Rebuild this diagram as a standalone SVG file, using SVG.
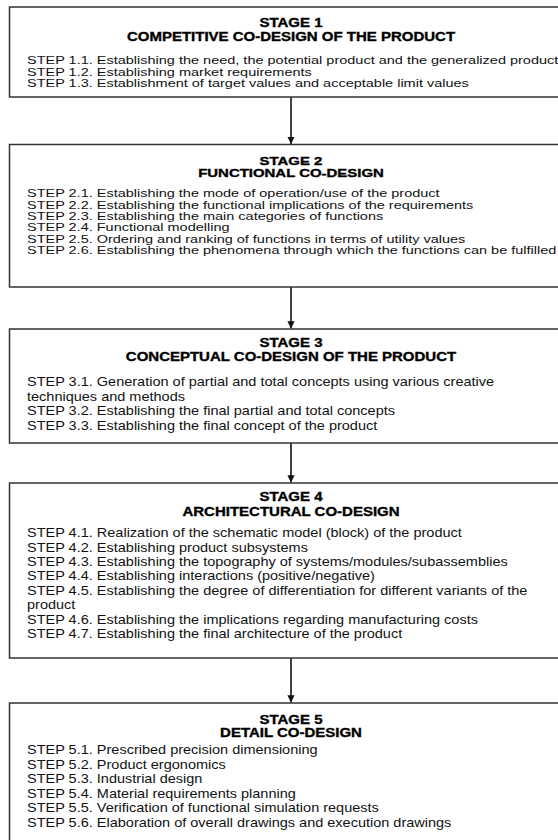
<svg xmlns="http://www.w3.org/2000/svg" width="558" height="840" viewBox="0 0 558 840">
<defs>
<style>
.box{fill:#fff;stroke:#333;stroke-width:1.5}
.st{font-family:"Liberation Sans",Arial,sans-serif;font-size:12px;fill:#111}
.st.s{font-size:11.5px}
.st.t{font-size:10.8px}
.hd{font-family:"Liberation Sans",Arial,sans-serif;font-weight:bold;font-size:12.5px;fill:#000;stroke:#000;stroke-width:0.35;text-anchor:middle}
.hd.t{font-size:11.5px}
.conn{stroke:#111;stroke-width:1.6;fill:none}
</style>
<marker id="ah" viewBox="0 0 10 10" refX="10" refY="5" markerWidth="4.5" markerHeight="5.5" markerUnits="strokeWidth" orient="auto">
<path d="M0,0 L10,5 L0,10 z" fill="#111"/>
</marker>
</defs>
<rect width="558" height="840" fill="#fff"/>

<g id="connectors">
<line class="conn" x1="291" y1="97" x2="291" y2="144" marker-end="url(#ah)"/>
<line class="conn" x1="291" y1="287" x2="291" y2="328.5" marker-end="url(#ah)"/>
<line class="conn" x1="291" y1="443" x2="291" y2="482.5" marker-end="url(#ah)"/>
<line class="conn" x1="291" y1="658" x2="291" y2="702.5" marker-end="url(#ah)"/>
</g>

<g id="stage1">
<rect class="box" x="9.5" y="7" width="570" height="90"/>
<g transform="translate(291 0) scale(1.2 1)">
<text class="hd" x="0" y="27.5">STAGE 1</text>
<text class="hd" x="0" y="41.5">COMPETITIVE CO-DESIGN OF THE PRODUCT</text>
</g>
<g transform="translate(27 0) scale(1.26 1)">
<text class="st s" x="0" y="64">STEP 1.1. Establishing the need, the potential product and the generalized product</text>
<text class="st s" x="0" y="75.7">STEP 1.2. Establishing market requirements</text>
<text class="st s" x="0" y="87.3">STEP 1.3. Establishment of target values and acceptable limit values</text>
</g>
</g>

<g id="stage2">
<rect class="box" x="9.5" y="144.5" width="570" height="142.5"/>
<g transform="translate(291 0) scale(1.3 1)">
<text class="hd t" x="0" y="165">STAGE 2</text>
<text class="hd t" x="0" y="177">FUNCTIONAL CO-DESIGN</text>
</g>
<g transform="translate(27 0) scale(1.342 1)">
<text class="st t" x="0" y="197.3">STEP 2.1. Establishing the mode of operation/use of the product</text>
<text class="st t" x="0" y="208.7">STEP 2.2. Establishing the functional implications of the requirements</text>
<text class="st t" x="0" y="220">STEP 2.3. Establishing the main categories of functions</text>
<text class="st t" x="0" y="231.4">STEP 2.4. Functional modelling</text>
<text class="st t" x="0" y="242.8">STEP 2.5. Ordering and ranking of functions in terms of utility values</text>
<text class="st t" x="0" y="254.2">STEP 2.6. Establishing the phenomena through which the functions can be fulfilled</text>
</g>
</g>

<g id="stage3">
<rect class="box" x="9.5" y="329" width="570" height="114"/>
<g transform="translate(291 0) scale(1.2 1)">
<text class="hd" x="0" y="347">STAGE 3</text>
<text class="hd" x="0" y="361.5">CONCEPTUAL CO-DESIGN OF THE PRODUCT</text>
</g>
<g transform="translate(27 0) scale(1.21 1)">
<text class="st" x="0" y="386.3">STEP 3.1. Generation of partial and total concepts using various creative</text>
<text class="st" x="0" y="400.8">techniques and methods</text>
<text class="st" x="0" y="415.3">STEP 3.2. Establishing the final partial and total concepts</text>
<text class="st" x="0" y="429.8">STEP 3.3. Establishing the final concept of the product</text>
</g>
</g>

<g id="stage4">
<rect class="box" x="9.5" y="483" width="570" height="175"/>
<g transform="translate(291 0) scale(1.2 1)">
<text class="hd" x="0" y="501.5">STAGE 4</text>
<text class="hd" x="0" y="516">ARCHITECTURAL CO-DESIGN</text>
</g>
<g transform="translate(27 0) scale(1.21 1)">
<text class="st" x="0" y="537.3">STEP 4.1. Realization of the schematic model (block) of the product</text>
<text class="st" x="0" y="551.7">STEP 4.2. Establishing product subsystems</text>
<text class="st" x="0" y="566.1">STEP 4.3. Establishing the topography of systems/modules/subassemblies</text>
<text class="st" x="0" y="580.5">STEP 4.4. Establishing interactions (positive/negative)</text>
<text class="st" x="0" y="594.9">STEP 4.5. Establishing the degree of differentiation for different variants of the</text>
<text class="st" x="0" y="609.3">product</text>
<text class="st" x="0" y="623.7">STEP 4.6. Establishing the implications regarding manufacturing costs</text>
<text class="st" x="0" y="638.1">STEP 4.7. Establishing the final architecture of the product</text>
</g>
</g>

<g id="stage5">
<rect class="box" x="9.5" y="703" width="570" height="150"/>
<g transform="translate(291 0) scale(1.2 1)">
<text class="hd" x="0" y="724">STAGE 5</text>
<text class="hd" x="0" y="737.5">DETAIL CO-DESIGN</text>
</g>
<g transform="translate(27 0) scale(1.21 1)">
<text class="st" x="0" y="754.3">STEP 5.1. Prescribed precision dimensioning</text>
<text class="st" x="0" y="768.8">STEP 5.2. Product ergonomics</text>
<text class="st" x="0" y="783.3">STEP 5.3. Industrial design</text>
<text class="st" x="0" y="797.8">STEP 5.4. Material requirements planning</text>
<text class="st" x="0" y="812.3">STEP 5.5. Verification of functional simulation requests</text>
<text class="st" x="0" y="826.8">STEP 5.6. Elaboration of overall drawings and execution drawings</text>
</g>
</g>
</svg>
